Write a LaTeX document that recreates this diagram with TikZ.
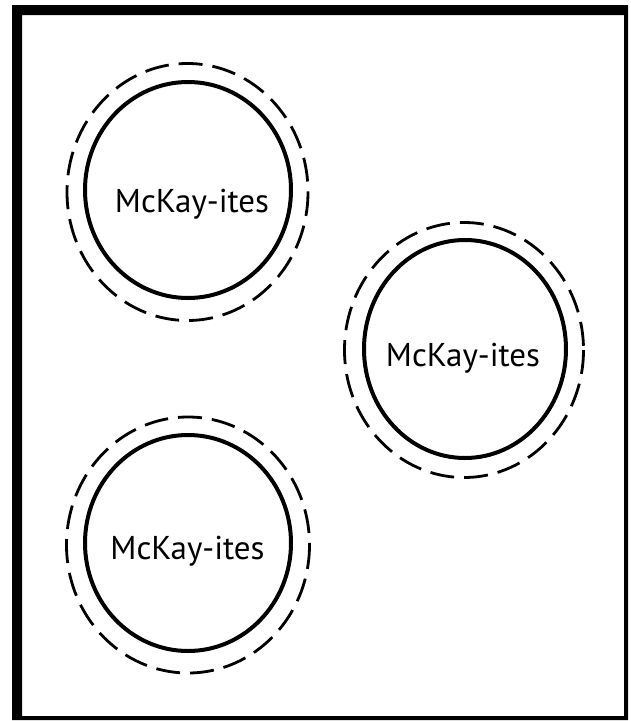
\documentclass[tikz,border=0pt]{standalone}
\usepackage{fontspec}
\setmainfont{PT Sans}
\begin{document}
\begin{tikzpicture}[x=1pt,y=-1pt,
  ring/.style={line width=4pt},
  halo/.style={line width=2.8pt, dash pattern=on 24pt off 10pt},
  tag/.style={font=\fontsize{33}{40}\selectfont, inner sep=0pt, anchor=base}]
\useasboundingbox (0,0) rectangle (631,721);
% frame, heavier on top and left
\fill[even odd rule] (12,5) rectangle (628,720) (22,15) rectangle (624,716);
% three groups: solid ring, dashed halo, label
\foreach \name/\cx/\cy/\rx/\ry/\hx/\hy/\hrx/\hry/\tx/\ty in
  {one/188/190/103/108/187.5/192/120.5/128.5/192/212,
   two/465/349/101/109/464/350/119.5/127.5/463/366,
   three/188/543/103/108/188/545/121.5/128/187.5/559} {
  \draw[ring] (\cx,\cy) ellipse [x radius=\rx, y radius=\ry];
  \draw[halo] (\hx,\hy) ellipse [x radius=\hrx, y radius=\hry];
  \node[tag] (\name) at (\tx,\ty) {McKay-ites};
}
\end{tikzpicture}
\end{document}
